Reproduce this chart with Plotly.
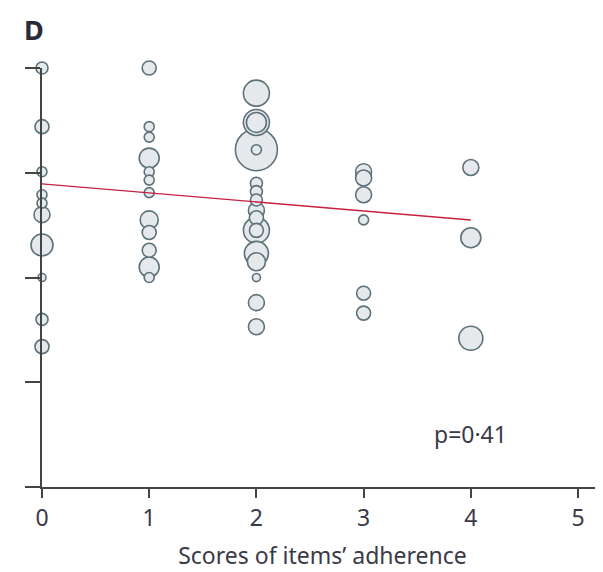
import plotly.graph_objects as go

# Data: adherence score (x), outcome (y), study size (n -> bubble area)
score = [0]*10 + [1]*12 + [2]*17 + [3]*6 + [4]*3
outcome = [4.00, 3.44, 3.01, 2.79, 2.71, 2.60, 2.31, 2.00, 1.60, 1.34,
           4.00, 3.44, 3.34, 3.14, 3.01, 2.93, 2.81, 2.55, 2.43, 2.26, 2.10, 2.00,
           3.76, 3.48, 3.48, 3.22, 3.22, 2.90, 2.82, 2.74, 2.64, 2.57, 2.45, 2.45, 2.23, 2.15, 2.00, 1.76, 1.53,
           3.01, 2.95, 2.79, 2.55, 1.85, 1.66,
           3.05, 2.38, 1.42]
n = [72, 98, 50, 50, 50, 128, 242, 32, 72, 98,
     98, 50, 50, 200, 50, 50, 50, 162, 98, 98, 200, 50,
     338, 338, 200, 882, 50, 72, 72, 72, 128, 98, 338, 98, 288, 162, 32, 128, 128,
     128, 128, 128, 50, 98, 98,
     128, 200, 288]

fit_x = [0, 4]
fit_y = [2.893, 2.549]

x_ticks = [0, 1, 2, 3, 4, 5]
y_ticks = [0, 1, 2, 3, 4]
x_title = "Scores of items\u2019 adherence"
p_text = "p=0\u00b741"
panel = "D"

# sort so large bubbles are drawn first
order = sorted(range(len(n)), key=lambda i: -n[i])
xs = [score[i] for i in order]
ys = [outcome[i] for i in order]
ns = [n[i] for i in order]

fig = go.Figure()
fig.add_trace(go.Scatter(
    x=xs, y=ys, mode="markers",
    marker=dict(size=ns, sizemode="area", sizeref=1.0,
                color="#e5e9ec", opacity=1,
                line=dict(color="#5d717a", width=1.6)),
    cliponaxis=False, showlegend=False, hoverinfo="skip"))
fig.add_trace(go.Scatter(
    x=fit_x, y=fit_y, mode="lines",
    line=dict(color="#c8203f", width=1.3),
    cliponaxis=False, showlegend=False, hoverinfo="skip"))

font_family = "Noto Sans, Open Sans, sans-serif"
txt_col = "#3a3a48"

fig.update_layout(
    width=595, height=564,
    margin=dict(l=34, r=0, t=60, b=85),
    paper_bgcolor="white", plot_bgcolor="white",
    font=dict(family=font_family, color=txt_col, size=23),
    xaxis=dict(range=[0, 5.233], tickvals=x_ticks, ticktext=[str(v) for v in x_ticks],
               showgrid=False, zeroline=False, showline=True, linecolor="#444444",
               linewidth=2, ticks="outside", ticklen=9, tickwidth=2, tickcolor="#444444",
               tickfont=dict(size=23, color=txt_col),
               title=dict(text=x_title, font=dict(size=23, color=txt_col), standoff=16)),
    yaxis=dict(range=[0, 4], tickvals=y_ticks, showticklabels=False,
               showgrid=False, zeroline=False, showline=True, linecolor="#444444",
               linewidth=2, ticks="outside", ticklen=15, tickwidth=2, tickcolor="#444444"),
    annotations=[
        dict(text=p_text, x=4.0, y=0.506, xref="x", yref="y", showarrow=False,
             font=dict(size=23, color=txt_col)),
        dict(text="<b>" + panel + "</b>", x=-0.0143, y=1.138, xref="paper", yref="paper",
             xanchor="center", yanchor="top", borderpad=0,
             showarrow=False, font=dict(size=27, color="#2a2a38")),
    ],
)

fig.write_html("out.html")
